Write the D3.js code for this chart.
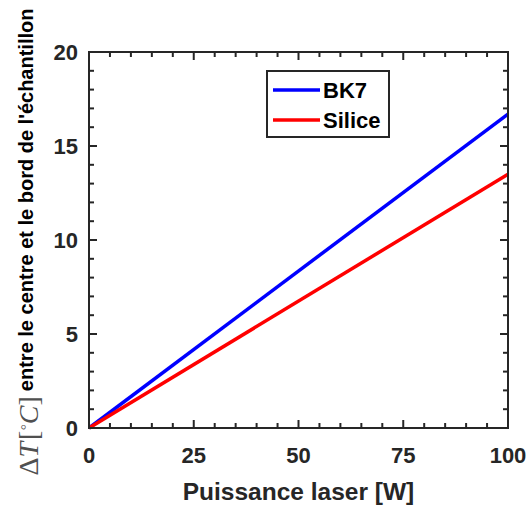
<!DOCTYPE html>
<html><head><meta charset="utf-8">
<script src="https://cdn.jsdelivr.net/npm/d3@7/dist/d3.min.js"></script>
<style>body{margin:0;background:#fff;} svg{display:block;}</style>
</head><body>
<script>
const seriesNames = ["BK7", "Silice"];
const seriesColors = ["#0000ff", "#ff0000"];
const powerW = [0, 100];
const bk7DeltaT = [0, 16.7];
const siliceDeltaT = [0, 13.5];
const xTicks = [0, 25, 50, 75, 100];
const yTicks = [0, 5, 10, 15, 20];

const W = 530, H = 507;
const m = {left: 89, right: 22, top: 52, bottom: 79};
const svg = d3.select("body").append("svg").attr("width", W).attr("height", H);
const x = d3.scaleLinear().domain([0, 100]).range([m.left, W - m.right]);
const y = d3.scaleLinear().domain([0, 20]).range([H - m.bottom, m.top]);
const axisColor = "#262626";
const font = "'Liberation Sans', Arial, sans-serif";

// minor ticks
const xMinor = d3.range(0, 101, 5);
const yMinor = d3.range(0, 21, 1);
const g = svg.append("g");
function tickLines(vals, majorSet, isX) {
  vals.forEach(v => {
    const len = majorSet.includes(v) ? 8 : 5;
    if (isX) {
      const px = x(v);
      g.append("line").attr("x1", px).attr("x2", px).attr("y1", y(0)).attr("y2", y(0) - len).attr("stroke", axisColor).attr("stroke-width", 2);
      g.append("line").attr("x1", px).attr("x2", px).attr("y1", y(20)).attr("y2", y(20) + len).attr("stroke", axisColor).attr("stroke-width", 2);
    } else {
      const py = y(v);
      g.append("line").attr("y1", py).attr("y2", py).attr("x1", x(0)).attr("x2", x(0) + len).attr("stroke", axisColor).attr("stroke-width", 2);
      g.append("line").attr("y1", py).attr("y2", py).attr("x1", x(100)).attr("x2", x(100) - len).attr("stroke", axisColor).attr("stroke-width", 2);
    }
  });
}
tickLines(xMinor, xTicks, true);
tickLines(yMinor, yTicks, false);

// lines
const line = d3.line().x(d => x(d[0])).y(d => y(d[1]));
const data = [powerW.map((p, i) => [p, bk7DeltaT[i]]), powerW.map((p, i) => [p, siliceDeltaT[i]])];
data.forEach((d, i) => {
  svg.append("path").datum(d).attr("d", line).attr("fill", "none").attr("stroke", seriesColors[i]).attr("stroke-width", 3.5);
});

// box
svg.append("rect").attr("x", x(0)).attr("y", y(20)).attr("width", x(100) - x(0)).attr("height", y(0) - y(20))
  .attr("fill", "none").attr("stroke", axisColor).attr("stroke-width", 2);

// tick labels
xTicks.forEach(v => {
  svg.append("text").attr("x", x(v)).attr("y", y(0) + 35).attr("text-anchor", "middle")
    .attr("font-family", font).attr("font-weight", "bold").attr("font-size", 22).attr("fill", axisColor).text(v);
});
yTicks.forEach(v => {
  svg.append("text").attr("x", x(0) - 11).attr("y", y(v) + 8).attr("text-anchor", "end")
    .attr("font-family", font).attr("font-weight", "bold").attr("font-size", 22).attr("fill", axisColor).text(v);
});

// x label
svg.append("text").attr("x", (x(0) + x(100)) / 2).attr("y", 500).attr("text-anchor", "middle")
  .attr("font-family", font).attr("font-weight", "bold").attr("font-size", 24.5).attr("fill", axisColor).text("Puissance laser [W]");

// y label
const yl = svg.append("text").attr("transform", `translate(38,${(y(0) + y(20)) / 2 + 2}) rotate(-90)`).attr("text-anchor", "middle");
const serif = "'Liberation Serif', 'DejaVu Serif', serif";
const mathCol = "#505050";
yl.append("tspan").attr("font-family", serif).attr("font-size", 28).attr("fill", mathCol).text("\u0394");
yl.append("tspan").attr("font-family", serif).attr("font-style", "italic").attr("font-size", 28).attr("fill", mathCol).text("T");
yl.append("tspan").attr("font-family", serif).attr("font-size", 28).attr("fill", mathCol).attr("dx", 2).text("[");
yl.append("tspan").attr("font-family", serif).attr("font-size", 18).attr("fill", mathCol).attr("dy", -9).text("\u25e6");
yl.append("tspan").attr("font-family", serif).attr("font-style", "italic").attr("font-size", 28).attr("fill", mathCol).attr("dy", 9).text("C");
yl.append("tspan").attr("font-family", serif).attr("font-size", 28).attr("fill", mathCol).text("]");
yl.append("tspan").attr("font-family", font).attr("font-weight", "bold").attr("font-size", 20).attr("fill", "#000").attr("dx", 5).attr("dy", -5).text("entre le centre et le bord de l'\u00e9chantillon");

// legend
const lg = svg.append("g");
lg.append("rect").attr("x", 267).attr("y", 71).attr("width", 122).attr("height", 66).attr("fill", "#fff").attr("stroke", axisColor).attr("stroke-width", 2);
seriesNames.forEach((n, i) => {
  const ly = 90 + i * 30;
  lg.append("line").attr("x1", 273).attr("x2", 320).attr("y1", ly).attr("y2", ly).attr("stroke", seriesColors[i]).attr("stroke-width", 3.5);
  lg.append("text").attr("x", 323).attr("y", ly + 8).attr("font-family", font).attr("font-weight", "bold").attr("font-size", 22).attr("fill", "#000").text(n);
});
</script>
</body></html>
